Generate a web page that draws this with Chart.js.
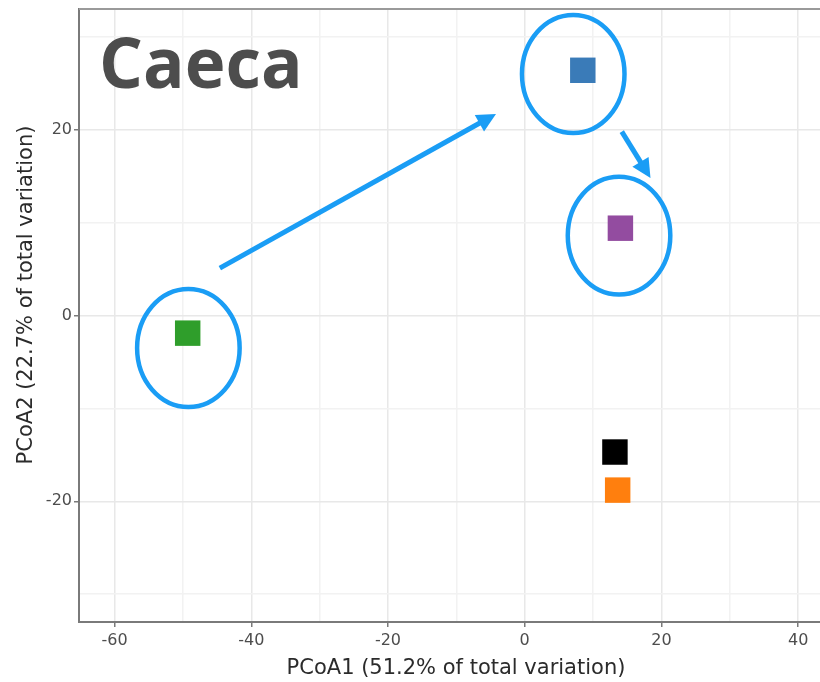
<!DOCTYPE html>
<html>
<head>
<meta charset="utf-8">
<script src="https://cdn.jsdelivr.net/npm/chart.js@4"></script>
<style>
  html, body { margin: 0; padding: 0; background: #ffffff; overflow: hidden; }
  #wrap { width: 834px; height: 682px; }
</style>
</head>
<body>
<div id="wrap"><canvas id="pcoa" width="834" height="682"></canvas></div>
<script>
// PCoA scores, one point per group
const pcoa1 = [-49.3, 8.5, 14.0, 13.2, 13.6];
const pcoa2 = [-1.9, 26.4, 9.4, -14.7, -18.8];
const groupColors = ['#2f9e2b', '#3a7bb8', '#934ca0', '#000000', '#ff7f0e'];

// labelled ticks
const xTicks = [-60, -40, -20, 0, 20, 40];
const yTicks = [-20, 0, 20];

// rings around the highlighted groups and the shift arrows between them (axis units)
const ringX = [-49.2, 7.1, 13.8];
const ringY = [-3.5, 26.0, 8.6];
const arrowFromX = [-44.6, 14.2];
const arrowFromY = [5.1, 19.8];
const arrowToX = [-4.2, 18.4];
const arrowToY = [21.7, 14.8];

const panelTitle = 'Caeca';
const xTitle = 'PCoA1 (51.2% of total variation)';
const yTitle = 'PCoA2 (22.7% of total variation)';

Chart.defaults.font.family = '"DejaVu Sans", sans-serif';

function drawArrow(ctx, x0, y0, x1, y1, head, half) {
  const a = Math.atan2(y1 - y0, x1 - x0);
  const c = Math.cos(a), s = Math.sin(a);
  const bx = x1 - head * c, by = y1 - head * s;
  ctx.beginPath();
  ctx.moveTo(x0, y0);
  ctx.lineTo(bx + 2 * c, by + 2 * s);
  ctx.stroke();
  ctx.beginPath();
  ctx.moveTo(x1, y1);
  ctx.lineTo(bx + half * s, by - half * c);
  ctx.lineTo(bx - half * s, by + half * c);
  ctx.closePath();
  ctx.fill();
}

const overlay = {
  id: 'overlay',
  beforeDatasetsDraw(chart) {
    // top edge of the panel
    const { ctx, chartArea: a } = chart;
    ctx.save();
    ctx.strokeStyle = '#9a9a9a';
    ctx.lineWidth = 2;
    ctx.beginPath();
    ctx.moveTo(a.left, a.top);
    ctx.lineTo(a.right, a.top);
    ctx.stroke();
    ctx.restore();
  },
  afterDatasetsDraw(chart, args, opts) {
    const { ctx, chartArea: a, scales: { x, y } } = chart;
    ctx.save();

    // panel title
    ctx.font = '700 69px "Open Sans"';
    ctx.fillStyle = '#4d4d4d';
    ctx.textAlign = 'left';
    ctx.textBaseline = 'alphabetic';
    ctx.fillText(panelTitle, a.left + 20, a.top + 79);

    // rings
    ctx.strokeStyle = opts.color;
    ctx.fillStyle = opts.color;
    ctx.lineWidth = 4.5;
    ringX.forEach((cx, i) => {
      const px = x.getPixelForValue(cx);
      const py = y.getPixelForValue(ringY[i]);
      const rx = Math.abs(x.getPixelForValue(cx + opts.ringRx) - px);
      const ry = Math.abs(y.getPixelForValue(ringY[i] + opts.ringRy) - py);
      ctx.beginPath();
      ctx.ellipse(px, py, rx, ry, 0, 0, Math.PI * 2);
      ctx.stroke();
    });

    // arrows
    ctx.lineWidth = 5;
    ctx.lineCap = 'butt';
    arrowFromX.forEach((fx, i) => {
      drawArrow(ctx,
        x.getPixelForValue(fx), y.getPixelForValue(arrowFromY[i]),
        x.getPixelForValue(arrowToX[i]), y.getPixelForValue(arrowToY[i]),
        19, 9.5);
    });

    // y axis title
    ctx.font = '21px "DejaVu Sans"';
    ctx.fillStyle = '#2b2b2b';
    ctx.textAlign = 'center';
    ctx.textBaseline = 'alphabetic';
    ctx.translate(32, 295);
    ctx.rotate(-Math.PI / 2);
    ctx.fillText(yTitle, 0, 0);

    ctx.restore();
  }
};

const isMajor = (list, v) => list.includes(Math.round(v));

new Chart(document.getElementById('pcoa'), {
  type: 'scatter',
  data: {
    datasets: [{
      data: pcoa1.map((v, i) => ({ x: v, y: pcoa2[i] })),
      backgroundColor: groupColors,
      borderColor: groupColors,
      borderWidth: 0,
      pointStyle: 'rect',
      pointRadius: 18,
      pointHoverRadius: 18
    }]
  },
  options: {
    responsive: false,
    animation: false,
    events: [],
    layout: { autoPadding: false, padding: { top: 9, right: 1, bottom: 0, left: 0 } },
    plugins: {
      legend: { display: false },
      tooltip: { enabled: false },
      overlay: { color: '#1a9df5', ringRx: 7.5, ringRy: 6.35 }
    },
    scales: {
      x: {
        type: 'linear',
        min: -65.2,
        max: 45.1,
        afterFit: s => { s.height = 60; s.paddingLeft = 0; s.paddingRight = 0; },
        border: { color: '#7a7a7a', width: 2 },
        grid: {
          color: c => isMajor(xTicks, c.tick.value) ? '#e8e8e8' : '#f2f2f2',
          lineWidth: 1.5,
          tickLength: 5,
          tickWidth: 1.5,
          tickColor: c => isMajor(xTicks, c.tick.value) ? '#7a7a7a' : 'rgba(0,0,0,0)'
        },
        ticks: {
          stepSize: 10,
          includeBounds: false,
          autoSkip: false,
          maxRotation: 0,
          padding: 4,
          color: '#4d4d4d',
          font: { size: 16 },
          callback: v => isMajor(xTicks, v) ? String(Math.round(v)) : ''
        },
        title: {
          display: true,
          text: xTitle,
          color: '#2b2b2b',
          font: { size: 21 },
          padding: { top: 0, bottom: 1 }
        }
      },
      y: {
        type: 'linear',
        min: -33,
        max: 33,
        afterFit: s => { s.width = 79; s.paddingTop = 0; s.paddingBottom = 0; },
        border: { color: '#7a7a7a', width: 2 },
        grid: {
          color: c => isMajor(yTicks, c.tick.value) ? '#e8e8e8' : '#f2f2f2',
          lineWidth: 1.5,
          tickLength: 5,
          tickWidth: 1.5,
          tickColor: c => isMajor(yTicks, c.tick.value) ? '#7a7a7a' : 'rgba(0,0,0,0)'
        },
        ticks: {
          stepSize: 10,
          includeBounds: false,
          autoSkip: false,
          padding: 2,
          color: '#4d4d4d',
          font: { size: 16 },
          callback: v => isMajor(yTicks, v) ? String(Math.round(v)) : ''
        },
        title: { display: false }
      }
    }
  },
  plugins: [overlay]
});
</script>
</body>
</html>
